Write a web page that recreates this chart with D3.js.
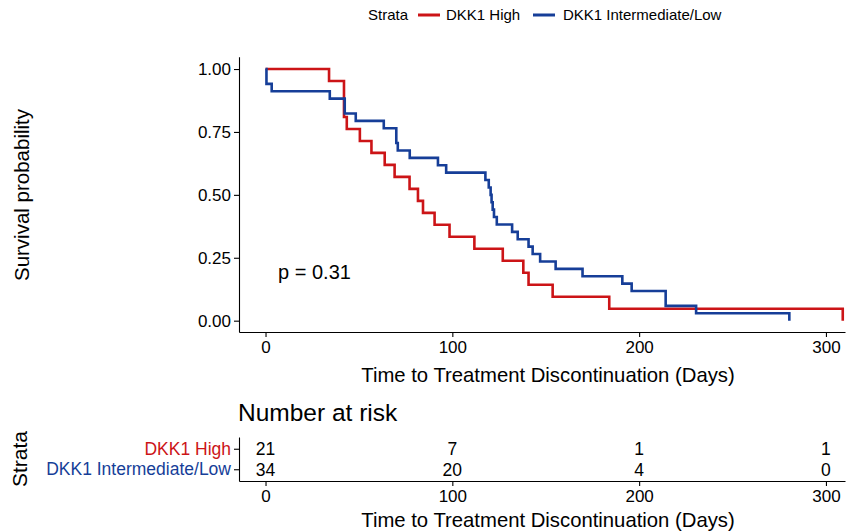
<!DOCTYPE html>
<html>
<head>
<meta charset="utf-8">
<script src="https://cdn.jsdelivr.net/npm/d3@7"></script>
<style>
  html, body { margin: 0; padding: 0; background: #fff; }
  svg { display: block; font-family: "Liberation Sans", Arial, Helvetica, sans-serif; }
</style>
</head>
<body>
<svg id="chart" width="848" height="531"></svg>
<script>
// Kaplan–Meier steps: event times (days) and number still event-free after each time
const strata = ["DKK1 High", "DKK1 Intermediate/Low"];
const strataColors = ["#CC1417", "#163E98"];

const highN = 21;
const highTimes = [0, 34, 42, 43.5, 50.5, 56.7, 63.8, 69.1, 77.1, 81.6, 84.3, 90.5, 98.5, 111.8, 127, 138, 140.8, 153.7, 184, 309];
const highAlive = [21, 20, 17, 16, 15, 14, 13, 12, 11, 10, 9, 8, 7, 6, 5, 4, 3, 2, 1, 0];

const lowN = 34;
const lowTimes = [0, 0.5, 3.3, 34.4, 42.4, 48.3, 63.3, 70, 70.8, 77.2, 92.3, 96.7, 117.7, 119.5, 120.5, 121, 121.6, 122.3, 123.8, 132, 135, 140.8, 143, 147, 155.3, 169.7, 191, 196, 214.2, 230.5, 280.4];
const lowAlive = [34, 32, 31, 30, 28, 27, 26, 24, 23, 22, 21, 20, 19, 18, 17, 16, 15, 14, 13, 12, 11, 10, 9, 8, 7, 6, 5, 4, 2, 1, 0];

// Number at risk table
const riskTimes = [0, 100, 200, 300];
const riskHigh = [21, 7, 1, 1];
const riskLow = [34, 20, 4, 0];

// Axis ticks and labels
const xTicks = [0, 100, 200, 300];
const yTicks = [0, 0.25, 0.5, 0.75, 1];
const pValueText = "p = 0.31";
const xTitle = "Time to Treatment Discontinuation (Days)";
const yTitle = "Survival probability";

const svg = d3.select("#chart");

// Scales
const x = d3.scaleLinear().domain([-14.2, 310.2]).range([239, 845]);
const y = d3.scaleLinear().domain([-0.045, 1.049]).range([332, 56.7]);

const curves = [
  { name: strata[0], color: strataColors[0], pts: highTimes.map((t, i) => [t, highAlive[i] / highN]) },
  { name: strata[1], color: strataColors[1], pts: lowTimes.map((t, i) => [t, lowAlive[i] / lowN]) }
];

const line = d3.line()
  .x(d => x(d[0]))
  .y(d => y(d[1]))
  .curve(d3.curveStepAfter);

const styleAxis = (g, size) => {
  g.select(".domain").attr("stroke", "#000").attr("stroke-width", 1.1);
  g.selectAll(".tick line").attr("stroke", "#000").attr("stroke-width", 1.1);
  g.selectAll(".tick text").attr("fill", "#000").style("font-size", size + "px");
};

// Main survival panel axes
const xAxisG = svg.append("g")
  .attr("transform", "translate(0,332)")
  .call(d3.axisBottom(x).tickValues(xTicks).tickSize(5).tickSizeOuter(0).tickPadding(4));
styleAxis(xAxisG, 17);

const yAxisG = svg.append("g")
  .attr("transform", "translate(239,0)")
  .call(d3.axisLeft(y).tickValues(yTicks).tickFormat(d3.format(".2f")).tickSize(5).tickSizeOuter(0).tickPadding(3));
styleAxis(yAxisG, 17);

// Survival curves
svg.append("g").selectAll("path.km")
  .data(curves)
  .join("path")
  .attr("class", "km")
  .attr("d", d => line(d.pts))
  .attr("fill", "none")
  .attr("stroke", d => d.color)
  .attr("stroke-width", 2.6)
  .attr("stroke-linejoin", "miter");

// Titles
svg.append("text")
  .attr("x", 548).attr("y", 382)
  .attr("text-anchor", "middle")
  .style("font-size", "20.3px")
  .text(xTitle);

svg.append("text")
  .attr("transform", "translate(29,195) rotate(-90)")
  .attr("text-anchor", "middle")
  .style("font-size", "20.5px")
  .text(yTitle);

svg.append("text")
  .attr("x", x(6.7)).attr("y", 278.5)
  .style("font-size", "20px")
  .text(pValueText);

// Legend
const legend = svg.append("g").attr("transform", "translate(0,15)");
legend.append("text").attr("x", 368).attr("y", 5.3).style("font-size", "15px").text("Strata");
const legendItems = [
  { x0: 418, tx: 446 },
  { x0: 533, tx: 563 }
];
legendItems.forEach((it, i) => {
  legend.append("line")
    .attr("x1", it.x0).attr("x2", it.x0 + 22)
    .attr("y1", 0).attr("y2", 0)
    .attr("stroke", strataColors[i]).attr("stroke-width", 3);
  legend.append("text").attr("x", it.tx).attr("y", 5.3).style("font-size", "15px").text(strata[i]);
});

// Risk table
svg.append("text")
  .attr("x", 238).attr("y", 421)
  .style("font-size", "24.5px")
  .text("Number at risk");

const rowY = d3.scalePoint().domain(strata).range([437, 481]).padding(0.573);

const tXAxis = svg.append("g")
  .attr("transform", "translate(0,481)")
  .call(d3.axisBottom(x).tickValues(xTicks).tickSize(5).tickSizeOuter(0).tickPadding(4));
styleAxis(tXAxis, 17);

const tYAxis = svg.append("g")
  .attr("transform", "translate(239,0)")
  .call(d3.axisLeft(rowY).tickSize(5).tickSizeOuter(0).tickPadding(3));
styleAxis(tYAxis, 17.5);
tYAxis.selectAll(".tick text").attr("fill", (d, i) => strataColors[i]);

const riskRows = [riskHigh, riskLow];
riskRows.forEach((row, r) => {
  svg.append("g").selectAll("text")
    .data(row)
    .join("text")
    .attr("x", (d, i) => x(riskTimes[i]))
    .attr("y", rowY(strata[r]))
    .attr("dy", "0.36em")
    .attr("text-anchor", "middle")
    .style("font-size", "17.5px")
    .text(d => d);
});

svg.append("text")
  .attr("x", 548).attr("y", 527)
  .attr("text-anchor", "middle")
  .style("font-size", "20.3px")
  .text(xTitle);

svg.append("text")
  .attr("transform", "translate(27,459) rotate(-90)")
  .attr("text-anchor", "middle")
  .style("font-size", "21px")
  .text("Strata");
</script>
</body>
</html>
